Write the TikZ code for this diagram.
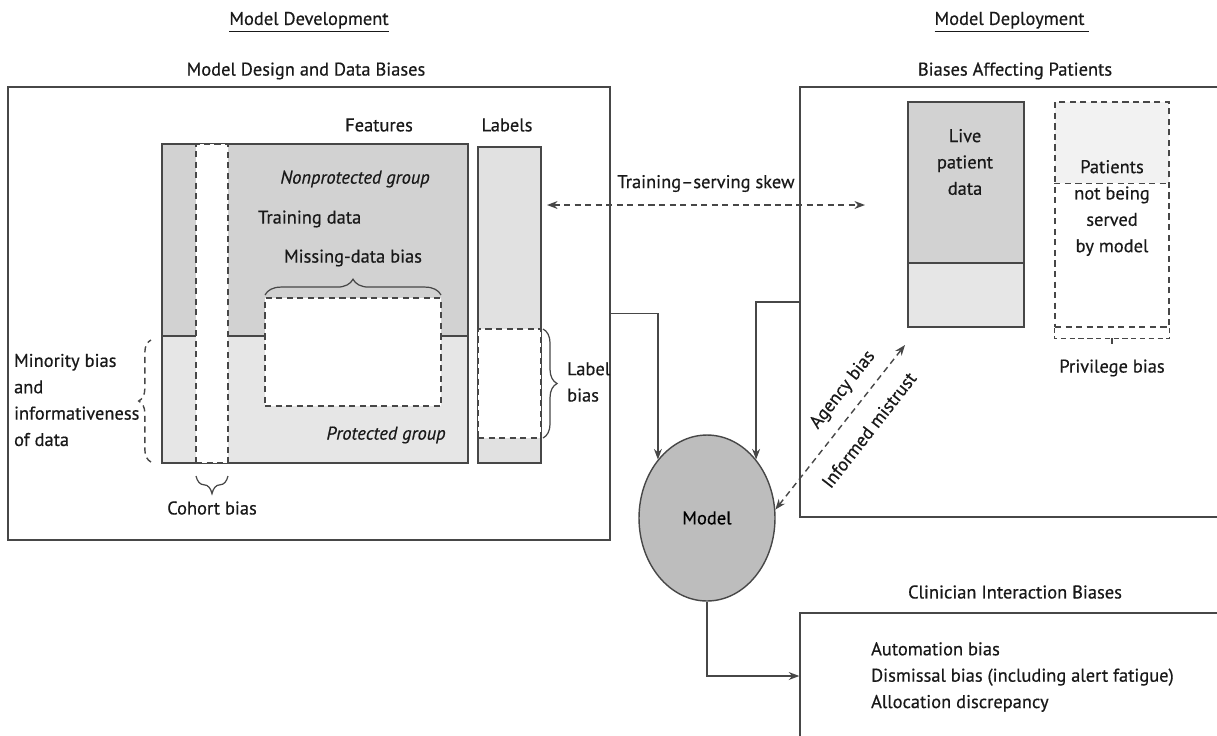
\documentclass[tikz,border=0pt]{standalone}
\usepackage{fontspec}
\setmainfont{PT Sans}[FakeBold=0.5]
\usetikzlibrary{arrows.meta, positioning, calc, fit, shapes.geometric, decorations.pathreplacing}

\definecolor{edgegray}{HTML}{474747}
\definecolor{darkfill}{HTML}{D2D2D2}
\definecolor{lightfill}{HTML}{E6E6E6}
\definecolor{labelfill}{HTML}{E1E1E1}
\definecolor{palefill}{HTML}{F2F2F2}
\definecolor{modelfill}{HTML}{BDBDBD}

\tikzset{
  panel/.style={draw=edgegray, line width=0.8pt, inner sep=0pt},
  dashpanel/.style={draw=edgegray, line width=0.8pt, inner sep=0pt, dash pattern=on 3.5pt off 2.5pt},
  dashline/.style={draw=edgegray, line width=0.8pt, dash pattern=on 3.5pt off 2.5pt},
  conn/.style={draw=edgegray, line width=0.8pt, -{Stealth[length=6pt,width=4.5pt]}},
  twoway/.style={dashline, {Stealth[length=6pt,width=4.5pt]}-{Stealth[length=6pt,width=4.5pt]}},
  curly/.style={draw=edgegray, line width=0.7pt, decorate, decoration={brace, amplitude=#1}},
  txt/.style={inner sep=1pt, text=black!90},
}

\begin{document}
\begin{tikzpicture}[x=0.02cm, y=-0.02cm, font=\fontsize{10.5}{15}\selectfont]
\useasboundingbox (0,0) rectangle (1217,735);

% headings
\node[txt] (devhead) at (309,22) {\underline{Model Development}};
\node[txt] (dephead) at (1012,22) {\underline{Model Deployment\ }};
\node[txt] (designhead) at (306,71) {Model Design and Data Biases};
\node[txt] (patienthead) at (1015,71) {Biases Affecting Patients};
\node[txt] (clinhead) at (1015,592) {Clinician Interaction Biases};

% outer panels
\node[panel, fit={(8,87) (610,540)}] (design) {};
\node[panel, fit={(800,87) (1240,517)}] (deploy) {};
\node[panel, fit={(800,613) (1240,739)}] (clinic) {};

% training data block
\node[txt] (feathead) at (379,125) {Features};
\node[txt] (labelhead) at (507,125) {Labels};
\node[panel, fill=darkfill, fit={(162,144) (468,336)}] (nonprot) {};
\node[panel, fill=lightfill, fit={(162,336) (468,463)}] (prot) {};
\node[dashpanel, fill=white, fit={(196,144) (228,463)}] (cohort) {};
\node[dashpanel, fill=white, fit={(265,298) (441,406)}] (missing) {};
\node[panel, fill=labelfill, fit={(478,147) (541,463)}] (labels) {};
\node[dashpanel, fill=white, fit={(478,329) (541,438)}] (labelbias) {};

\node[txt, font=\fontsize{10.5}{15}\selectfont\itshape] at (355,179) {Nonprotected group};
\node[txt, anchor=west] at (256,219) {Training data};
\node[txt] at (353,258) {Missing-data bias};
\node[txt, font=\fontsize{10.5}{15}\selectfont\itshape] at (386,435) {Protected group};

% braces
\draw[curly=9pt] (265,295) -- (441,295);
\draw[curly=8pt] (543,329) -- (543,438);
\draw[curly=10pt] (228,476) -- (196,476);
\draw[curly=7pt, dashline] (151,462) -- (151,340);
\node[txt, anchor=west, align=left] at (565,382) {Label\\bias};
\node[txt, anchor=west, align=left] at (12,400) {Minority bias\\and\\informativeness\\of data};
\node[txt] at (212,508) {Cohort bias};

% deployment block
\node[panel, fill=darkfill, fit={(908,102) (1024,263)}] (live) {};
\node[panel, fill=lightfill, fit={(908,263) (1024,327)}] (livelow) {};
\node[txt, align=center] at (965,162) {Live\\patient\\data};
\node[fill=palefill, inner sep=0pt, fit={(1055,102) (1169,183)}] (served) {};
\node[dashpanel, fit={(1055,102) (1169,327)}] (unserved) {};
\draw[dashline] (unserved.west |- served.south) -- (unserved.east |- served.south);
\node[txt, align=center] at (1112,208) {Patients\\not being\\served\\by model};
\draw[dashline, dash pattern=on 3pt off 2pt] (unserved.south west) -- ++(0,11) -| (unserved.south east);
\draw[dashline] (1112,338) -- (1112,346);
\node[txt] at (1112,368) {Privilege bias};

% model
\node[ellipse, draw=edgegray, line width=0.8pt, fill=modelfill, inner sep=0pt,
      minimum width=2.72cm, minimum height=3.32cm] (model) at (707,518) {Model};

% connectors
\coordinate (skewl) at (547,205);
\coordinate (skewr) at (865,205);
\coordinate (agencytip) at (905,345);
\draw[twoway] (skewl) -- node[txt, above=6pt] {Training--serving skew} (skewr);
\draw[conn] (design.east) -| (model.130);
\draw[conn] (deploy.west) -| (model.50);
\draw[twoway] (model.7) -- (agencytip);
\node[txt, rotate=52] (agency) at (843,390) {Agency bias};
\node[txt, rotate=52] (mistrust) at (869,430) {Informed mistrust};
\draw[conn] (model.south) |- (clinic.west);

\node[txt, anchor=west, align=left] at (869,677) {Automation bias\\Dismissal bias (including alert fatigue)\\Allocation discrepancy};
\end{tikzpicture}
\end{document}
